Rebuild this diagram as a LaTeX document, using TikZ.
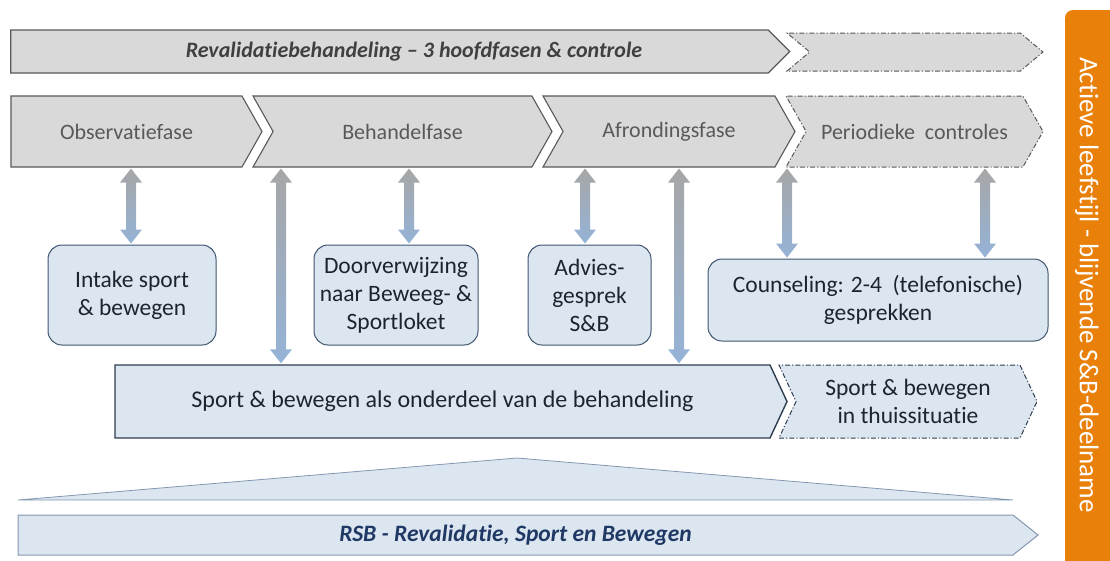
\documentclass[tikz,border=0pt]{standalone}
\usepackage{fontspec}
\setmainfont{Carlito}[Ligatures=NoCommon]
\usetikzlibrary{shapes.symbols,calc}

\definecolor{fasegrijs}{RGB}{217,217,217}
\definecolor{randgrijs}{RGB}{89,89,89}
\definecolor{tekstgrijs}{RGB}{89,89,89}
\definecolor{kopgrijs}{RGB}{64,64,64}
\definecolor{lichtblauw}{RGB}{220,230,241}
\definecolor{randblauw}{RGB}{62,84,110}
\definecolor{balkrand}{RGB}{46,61,80}
\definecolor{rsbrand}{RGB}{132,151,176}
\definecolor{donkerblauw}{RGB}{31,56,100}
\definecolor{tekstdonker}{RGB}{28,36,48}
\definecolor{pijlgrijs}{RGB}{166,166,166}
\definecolor{pijlblauw}{RGB}{149,179,215}
\definecolor{oranje}{RGB}{232,128,10}

% dubbele pijl met verloop: x, van node, naar node
\newcommand\heenweer[3]{%
  \shade[top color=pijlgrijs, bottom color=pijlblauw]
    let \p1=(#2.south), \p2=(#3.north) in
    (#1pt,\y1-1pt) -- (#1pt+11pt,\y1-15pt) -- (#1pt+5pt,\y1-15pt)
    -- (#1pt+5pt,\y2+15pt) -- (#1pt+11pt,\y2+15pt) -- (#1pt,\y2+1pt)
    -- (#1pt-11pt,\y2+15pt) -- (#1pt-5pt,\y2+15pt)
    -- (#1pt-5pt,\y1-15pt) -- (#1pt-11pt,\y1-15pt) -- cycle;}

\begin{document}
\begin{tikzpicture}[
  x=1pt, y=-1pt,
  chev/.style={signal, signal to=east, inner sep=0pt, align=center},
  stippel/.style={dash pattern=on 5pt off 2pt on 1.2pt off 2pt},
  fase/.style={chev, signal pointer angle=121, minimum height=71pt,
               draw=randgrijs, line width=1.1pt, fill=fasegrijs, text=tekstgrijs,
               font=\fontsize{22}{26}\selectfont},
  blok/.style={rounded corners=14pt, draw=randblauw, line width=1pt, fill=lichtblauw,
               text=tekstdonker, align=center, inner sep=2pt, minimum height=100pt,
               font=\fontsize{23.5}{28}\selectfont},
  sb/.style={chev, signal pointer angle=130, minimum height=73pt, fill=lichtblauw,
             draw=balkrand, line width=1.4pt, text=tekstdonker,
             font=\fontsize{24}{28}\selectfont},
]
\useasboundingbox (0,0) rectangle (1110,560);

% Bovenste balk: revalidatiebehandeling
\node[chev, minimum width=779pt, minimum height=43pt, draw=randgrijs, line width=1.1pt,
      fill=fasegrijs, text=kopgrijs, font=\fontsize{22}{26}\selectfont\bfseries\itshape]
  (reval) at (389.5,51.5) {\hspace*{49pt}Revalidatiebehandeling -- 3 hoofdfasen \& controle};
\node[chev, signal from=west, signal pointer angle=80, minimum width=256pt,
      minimum height=38pt, draw=randgrijs, line width=1pt, stippel, fill=fasegrijs]
  (revalvervolg) at (915,52) {};

% Fasen
\node[fase, minimum width=251pt] (obs) at (126.5,131.5) {Observatiefase};
\node[fase, signal from=west, minimum width=299pt] (behandel) at (402.5,131.5) {Behandelfase};
\node[fase, signal from=west, minimum width=252pt] (afrond) at (669,131.5) {Afrondingsfase};
\node[fase, signal from=west, minimum width=257pt, stippel, line width=1pt]
  (periodiek) at (914.5,131.5) {Periodieke~ controles};

% Blokken sport & bewegen
\node[blok, minimum width=168pt] (intake) at (132,295) {Intake sport\\\& bewegen};
\node[blok, minimum width=164pt] (verwijs) at (396,295) {Doorverwijzing\\naar Beweeg- \&\\Sportloket};
\node[blok, minimum width=123pt] (advies) at (589.5,295) {Advies-\\gesprek\\S\&B};
\node[blok, minimum width=340pt, minimum height=82pt] (counsel) at (878,300)
  {Counseling: 2-4~ (telefonische)\\gesprekken};

% Balk sport & bewegen
\node[sb, minimum width=672pt] (sport) at (442.5,401.5)
  {Sport \& bewegen als onderdeel van de behandeling};
\node[sb, signal from=west, minimum width=258pt, stippel, line width=1pt,
      font=\fontsize{23.5}{28}\selectfont] (thuis) at (908,401.5)
  {Sport \& bewegen\\in thuissituatie};

% Pijlen
\heenweer{131}{obs}{intake}
\heenweer{281}{behandel}{sport}
\heenweer{409}{behandel}{verwijs}
\heenweer{585}{afrond}{advies}
\heenweer{679}{afrond}{sport}
\heenweer{787}{periodiek}{counsel}
\heenweer{985}{periodiek}{counsel}

% Driehoek + RSB
\filldraw[fill=lichtblauw, draw=rsbrand, line width=0.8pt] (18,500) -- (517,458) -- (1013,500) -- cycle;
\node[chev, signal pointer angle=77, minimum width=1020pt, minimum height=40pt,
      fill=lichtblauw, draw=rsbrand, line width=1pt, text=donkerblauw,
      font=\fontsize{23.5}{26}\selectfont\bfseries\itshape]
  (rsb) at (515.5,535) {RSB - Revalidatie, Sport en Bewegen};

% Oranje zijbalk
\node[rotate=-90, minimum width=560pt, minimum height=55pt, fill=oranje,
      rounded corners=8pt] (leefstijl) at (1092.5,290) {};
\node[rotate=-90, text=white, font=\fontsize{27}{30}\selectfont] (leefstijltekst)
  at (1087,285) {Actieve leefstijl - blijvende S\&B-deelname};
\end{tikzpicture}
\end{document}
